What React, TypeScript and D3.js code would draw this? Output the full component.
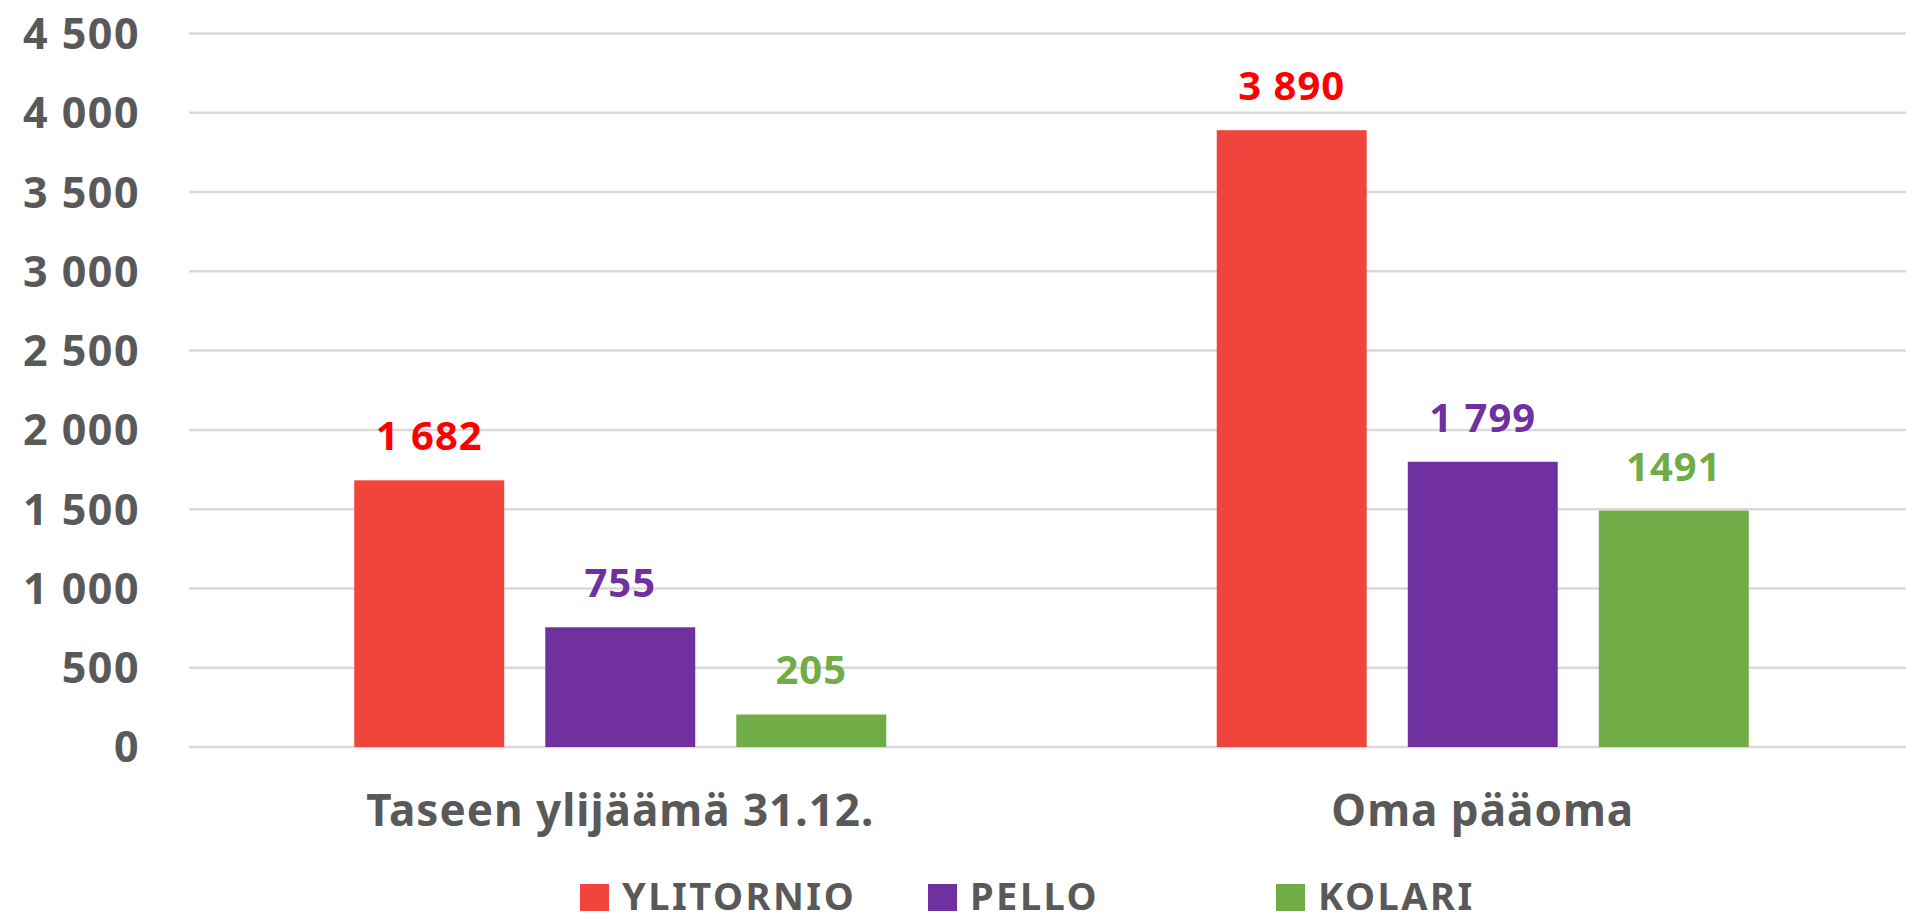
import React from "react";
import * as d3 from "d3";

const categories = ["Taseen ylijäämä 31.12.", "Oma pääoma"];
const seriesNames = ["YLITORNIO", "PELLO", "KOLARI"];
const ylitornio = [1682, 3890];
const pello = [755, 1799];
const kolari = [205, 1491];
const valueLabels = [
  ["1 682", "3 890"],
  ["755", "1 799"],
  ["205", "1491"],
];
const yTicks = [0, 500, 1000, 1500, 2000, 2500, 3000, 3500, 4000, 4500];
const yTickLabels = ["0", "500", "1 000", "1 500", "2 000", "2 500", "3 000", "3 500", "4 000", "4 500"];

const barColors = ["#EF453D", "#7030A0", "#70AD47"];
const labelColors = ["#FF0000", "#7030A0", "#70AD47"];

const W = 1908;
const H = 921;
const FONT = "'Noto Sans', 'Open Sans', sans-serif";

export default function App() {
  const series = [ylitornio, pello, kolari];

  const y = d3.scaleLinear().domain([0, 4500]).range([747, 33.5]);
  const x0 = d3.scaleBand<string>().domain(categories).range([189, 1914]);
  const groupW = 532;
  const x1 = d3
    .scaleBand<string>()
    .domain(seriesNames)
    .range([0, groupW])
    .paddingInner(0.215);

  // legend item positions
  const legendX = d3.scaleOrdinal<string, number>().domain(seriesNames).range([580, 928, 1276]);

  return (
    <svg
      width={W}
      height={H}
      style={{ position: "absolute", left: 0, top: 0, background: "#fff" }}
      fontFamily={FONT}
    >
      <rect width={W} height={H} fill="#fff" />
      {/* gridlines */}
      {yTicks.map((t) => (
        <line
          key={t}
          x1={189}
          x2={1906}
          y1={y(t)}
          y2={y(t)}
          stroke="#D9D9D9"
          strokeWidth={2.5}
        />
      ))}
      {/* y labels */}
      {yTicks.map((t, i) => (
        <text
          key={"l" + t}
          x={140}
          y={y(t)}
          dy="0.36em"
          textAnchor="end"
          fontSize={43}
          fontWeight={700}
          fill="#595959"
          letterSpacing={1.5}
        >
          {yTickLabels[i]}
        </text>
      ))}
      {/* bars */}
      {categories.map((c, ci) => {
        const gx = (x0(c) as number) + x0.bandwidth() / 2 - groupW / 2;
        return (
          <g key={c} transform={`translate(${gx},0)`}>
            {seriesNames.map((s, si) => {
              const v = series[si][ci];
              const bx = x1(s) as number;
              return (
                <g key={s}>
                  <rect
                    x={bx}
                    y={y(v)}
                    width={x1.bandwidth()}
                    height={y(0) - y(v)}
                    fill={barColors[si]}
                  />
                  <text
                    x={bx + x1.bandwidth() / 2}
                    y={y(v) - 30}
                    textAnchor="middle"
                    fontSize={40}
                    fontWeight={700}
                    fill={labelColors[si]}
                    letterSpacing={1}
                  >
                    {valueLabels[si][ci]}
                  </text>
                </g>
              );
            })}
          </g>
        );
      })}
      {/* category labels */}
      {categories.map((c) => (
        <text
          key={"c" + c}
          x={(x0(c) as number) + x0.bandwidth() / 2}
          y={826}
          textAnchor="middle"
          fontSize={44}
          fontWeight={700}
          fill="#595959"
          letterSpacing={1}
        >
          {c}
        </text>
      ))}
      {/* legend */}
      {seriesNames.map((s, si) => (
        <g key={"lg" + s} transform={`translate(${legendX(s)},0)`}>
          <rect x={0} y={884} width={29} height={27} fill={barColors[si]} />
          <text x={42} y={910} fontSize={38} fontWeight={700} fill="#595959" letterSpacing={2.5}>
            {s}
          </text>
        </g>
      ))}
    </svg>
  );
}
